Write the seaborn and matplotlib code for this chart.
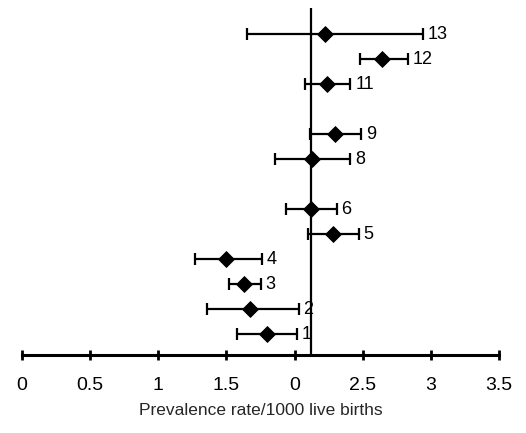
import matplotlib
matplotlib.use("Agg")
import matplotlib.pyplot as plt
import seaborn as sns
import pandas as pd

# data
study = [1, 2, 3, 4, 5, 6, 8, 9, 11, 12, 13]
estimate = [1.80, 1.67, 1.63, 1.50, 2.28, 2.12, 2.13, 2.30, 2.24, 2.64, 2.22]
lower = [1.58, 1.36, 1.52, 1.27, 2.10, 1.94, 1.86, 2.11, 2.08, 2.48, 1.65]
upper = [2.02, 2.03, 1.75, 1.76, 2.47, 2.31, 2.41, 2.49, 2.41, 2.83, 2.94]
overall = 2.12
tick_values = [0, 0.5, 1, 1.5, 2, 2.5, 3, 3.5]
tick_labels = ["0", "0.5", "1", "1.5", "0", "2.5", "3", "3.5"]
xlabel = "Prevalence rate/1000 live births"

df = pd.DataFrame({"study": study, "est": estimate, "lo": lower, "hi": upper})

sns.set_theme(style="white")
plt.rcParams["font.family"] = ["Liberation Sans", "DejaVu Sans"]

fig = plt.figure(figsize=(5.26, 4.33), dpi=100)
ax = fig.add_axes([22 / 526, (433 - 355) / 433, (499 - 22) / 526, (355 - 8) / 433])

ax.errorbar(df["est"], df["study"],
            xerr=[df["est"] - df["lo"], df["hi"] - df["est"]],
            fmt="none", ecolor="black", elinewidth=1.6, capsize=4, capthick=1.6, zorder=2)
sns.scatterplot(data=df, x="est", y="study", marker="D", s=65, color="black",
                edgecolor="black", ax=ax, zorder=3, legend=False)
ax.axvline(overall, color="black", lw=1.6, zorder=1)

for s, h in zip(df["study"], df["hi"]):
    ax.text(h + 0.035, s, str(s), va="center", ha="left", fontsize=13, color="black")

ax.set_xlim(0, 3.5)
ax.set_ylim(0.16, 14.05)
ax.set_xticks(tick_values)
ax.set_xticklabels(tick_labels, fontsize=14)
ax.set_yticks([])
ax.set_xlabel(xlabel, fontsize=12.5, labelpad=7)
ax.set_ylabel("")
for side in ["top", "left", "right"]:
    ax.spines[side].set_visible(False)
ax.spines["bottom"].set_linewidth(2.2)
ax.spines["bottom"].set_color("black")
ax.tick_params(axis="x", direction="inout", length=7, width=2, colors="black", pad=12, bottom=True)

fig.savefig("out.png", dpi=100)
